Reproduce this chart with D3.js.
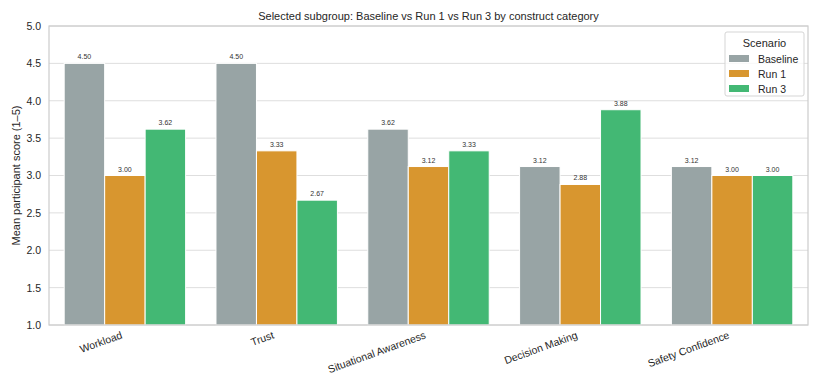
<!DOCTYPE html>
<html>
<head>
<meta charset="utf-8">
<script src="https://cdn.jsdelivr.net/npm/d3@7"></script>
<style>
  body { margin: 0; background: #fff; }
  text { font-family: Arial, "Liberation Sans", sans-serif; }
</style>
</head>
<body>
<script>
// Chart data
const categories = ["Workload", "Trust", "Situational Awareness", "Decision Making", "Safety Confidence"];
const scenarios = ["Baseline", "Run 1", "Run 3"];
const baseline = [4.50, 4.50, 3.62, 3.12, 3.12];
const run1 = [3.00, 3.33, 3.12, 2.88, 3.00];
const run3 = [3.62, 2.67, 3.33, 3.88, 3.00];
const yTicks = [1.0, 1.5, 2.0, 2.5, 3.0, 3.5, 4.0, 4.5, 5.0];
const colors = ["#98a4a5", "#d8962f", "#43b874"];

const seriesValues = [baseline, run1, run3];
const rows = [];
categories.forEach((c, i) => {
  scenarios.forEach((s, j) => {
    rows.push({ category: c, scenario: s, value: seriesValues[j][i] });
  });
});

const W = 821, H = 390;
const margin = { top: 26, right: 13, bottom: 65, left: 49 };
const width = W - margin.left - margin.right;
const height = H - margin.top - margin.bottom;

const svg = d3.select("body").append("svg")
  .attr("width", W)
  .attr("height", H);

const g = svg.append("g")
  .attr("transform", `translate(${margin.left},${margin.top})`);

const x = d3.scaleBand()
  .domain(categories)
  .range([0, width])
  .paddingInner(0)
  .paddingOuter(0);

// seaborn-style dodge: groups take 80% of each band
const xInner = d3.scaleBand()
  .domain(scenarios)
  .range([x.bandwidth() * 0.1, x.bandwidth() * 0.9]);

const y = d3.scaleLinear()
  .domain([1, 5])
  .range([height, 0]);

const color = d3.scaleOrdinal().domain(scenarios).range(colors);

// Grid lines
g.append("g")
  .selectAll("line")
  .data(yTicks)
  .enter()
  .append("line")
  .attr("x1", 0)
  .attr("x2", width)
  .attr("y1", d => y(d))
  .attr("y2", d => y(d))
  .attr("stroke", "#dedede")
  .attr("stroke-width", 1);

// Bars
g.selectAll("rect.bar")
  .data(rows)
  .enter()
  .append("rect")
  .attr("class", "bar")
  .attr("x", d => x(d.category) + xInner(d.scenario))
  .attr("y", d => y(d.value))
  .attr("width", xInner.bandwidth())
  .attr("height", d => y(1) - y(d.value))
  .attr("fill", d => color(d.scenario))
  .attr("stroke", "#fff")
  .attr("stroke-width", 1);

// Value labels
g.selectAll("text.val")
  .data(rows)
  .enter()
  .append("text")
  .attr("class", "val")
  .attr("x", d => x(d.category) + xInner(d.scenario) + xInner.bandwidth() / 2)
  .attr("y", d => y(d.value) - 4)
  .attr("text-anchor", "middle")
  .style("font-size", "7px")
  .attr("fill", "#333")
  .text(d => d.value.toFixed(2));

// Frame
g.append("rect")
  .attr("x", 0)
  .attr("y", 0)
  .attr("width", width)
  .attr("height", height)
  .attr("fill", "none")
  .attr("stroke", "#cccccc")
  .attr("stroke-width", 1.2);

// Y axis
const yAxis = g.append("g")
  .call(d3.axisLeft(y).tickValues(yTicks).tickFormat(d3.format(".1f")).tickSize(0).tickPadding(8));
yAxis.select(".domain").remove();
yAxis.selectAll("text")
  .style("font-size", "10.5px")
  .style("font-family", "Arial, 'Liberation Sans', sans-serif")
  .attr("fill", "#262626");

// X axis, labels rotated like ha='right'
const xAxis = g.append("g")
  .attr("transform", `translate(0,${height})`)
  .call(d3.axisBottom(x).tickSize(0).tickPadding(0));
xAxis.select(".domain").remove();
xAxis.selectAll("text")
  .style("font-size", "10.5px")
  .style("font-family", "Arial, 'Liberation Sans', sans-serif")
  .attr("fill", "#262626")
  .attr("text-anchor", "end")
  .attr("dy", "0")
  .attr("transform", "translate(-2,13) rotate(-20)");

// Y label
svg.append("text")
  .attr("transform", "rotate(-90)")
  .attr("x", -(margin.top + height / 2))
  .attr("y", 20)
  .attr("text-anchor", "middle")
  .style("font-size", "11px")
  .attr("fill", "#262626")
  .text("Mean participant score (1\u20135)");

// Title
svg.append("text")
  .attr("x", margin.left + width / 2)
  .attr("y", 20)
  .attr("text-anchor", "middle")
  .style("font-size", "11px")
  .attr("fill", "#262626")
  .text("Selected subgroup: Baseline vs Run 1 vs Run 3 by construct category");

// Legend
const lx = margin.left + width - 83, ly = margin.top + 6;
const legend = svg.append("g").attr("transform", `translate(${lx},${ly})`);
legend.append("rect")
  .attr("width", 79)
  .attr("height", 64)
  .attr("rx", 2)
  .attr("fill", "#fff")
  .attr("fill-opacity", 0.8)
  .attr("stroke", "#d5d5d5");
legend.append("text")
  .attr("x", 39.5)
  .attr("y", 15)
  .attr("text-anchor", "middle")
  .style("font-size", "11px")
  .attr("fill", "#262626")
  .text("Scenario");
scenarios.forEach((s, i) => {
  const row = legend.append("g").attr("transform", `translate(4,${23 + i * 15})`);
  row.append("rect")
    .attr("width", 20)
    .attr("height", 7)
    .attr("fill", color(s));
  row.append("text")
    .attr("x", 29)
    .attr("y", 7.5)
    .style("font-size", "10.5px")
    .attr("fill", "#262626")
    .text(s);
});
</script>
</body>
</html>
